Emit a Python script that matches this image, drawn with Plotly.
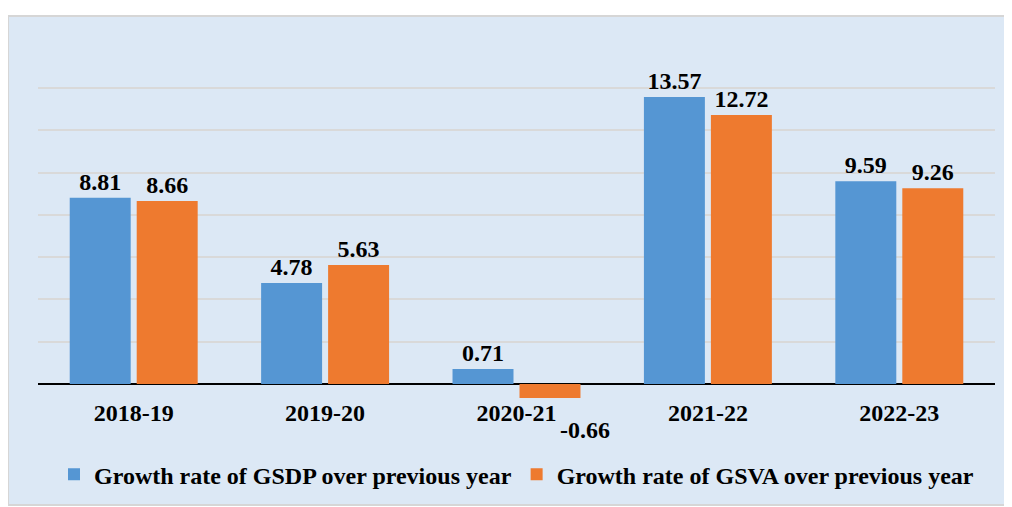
import plotly.graph_objects as go

categories = ["2018-19", "2019-20", "2020-21", "2021-22", "2022-23"]
gsdp = [8.81, 4.78, 0.71, 13.57, 9.59]
gsva = [8.66, 5.63, -0.66, 12.72, 9.26]
series_names = ["Growth rate of GSDP over previous year",
                "Growth rate of GSVA over previous year"]

FONT = "Liberation Serif"
LABEL_FONT = dict(family=FONT, size=24, color="black", weight="bold")


def labels(vals):
    # negative labels are placed below the category labels by annotations
    return [f"{v:.2f}" if v >= 0 else "" for v in vals]


fig = go.Figure()
fig.add_trace(go.Bar(
    x=categories, y=gsdp, name=series_names[0],
    marker=dict(color="#5596d3", line=dict(width=0)),
    text=labels(gsdp), textposition="outside", cliponaxis=False,
    constraintext="none", textfont=LABEL_FONT,
))
fig.add_trace(go.Bar(
    x=categories, y=gsva, name=series_names[1],
    marker=dict(color="#ee7a2f", line=dict(width=0)),
    text=labels(gsva), textposition="outside", cliponaxis=False,
    constraintext="none", textfont=LABEL_FONT,
))

annotations = []
for series, xs in ((gsdp, -1), (gsva, 1)):
    for cat, v in zip(categories, series):
        if v < 0:
            annotations.append(dict(
                x=cat, y=v, xref="x", yref="y", text=f"{v:.2f}",
                showarrow=False, xanchor="center", yanchor="middle",
                xshift=68 * xs, yshift=-32, font=LABEL_FONT))

fig.update_layout(
    width=1012, height=507,
    margin=dict(l=30, r=25, t=37, b=88),
    paper_bgcolor="white",
    plot_bgcolor="rgba(0,0,0,0)",
    barmode="group",
    bargap=0.30,
    bargroupgap=0.09,
    font=dict(family=FONT, size=24, color="black", weight="bold"),
    legend=dict(orientation="h", x=0.5, xanchor="center", y=-0.125,
                yanchor="middle", font=LABEL_FONT,
                bgcolor="rgba(0,0,0,0)", itemwidth=30),
    showlegend=True,
    annotations=annotations,
    shapes=[dict(type="rect", xref="paper", yref="paper",
                 x0=-0.0313, x1=1.0146, y0=-0.204, y1=1.0759,
                 fillcolor="#dce8f5", line=dict(color="#d6d6d6", width=2),
                 layer="below")],
)
fig.update_yaxes(range=[-2.03, 16.03], dtick=2, showticklabels=False,
                 showgrid=True, gridcolor="#d9d9d9", gridwidth=1.5,
                 zeroline=True, zerolinecolor="black", zerolinewidth=2,
                 showline=False)
fig.update_xaxes(anchor="free", position=0.1126, showline=False, showgrid=False,
                 ticks="outside", ticklen=7, tickcolor="rgba(0,0,0,0)",
                 tickfont=LABEL_FONT, automargin=False)

fig.write_html("out.html")
